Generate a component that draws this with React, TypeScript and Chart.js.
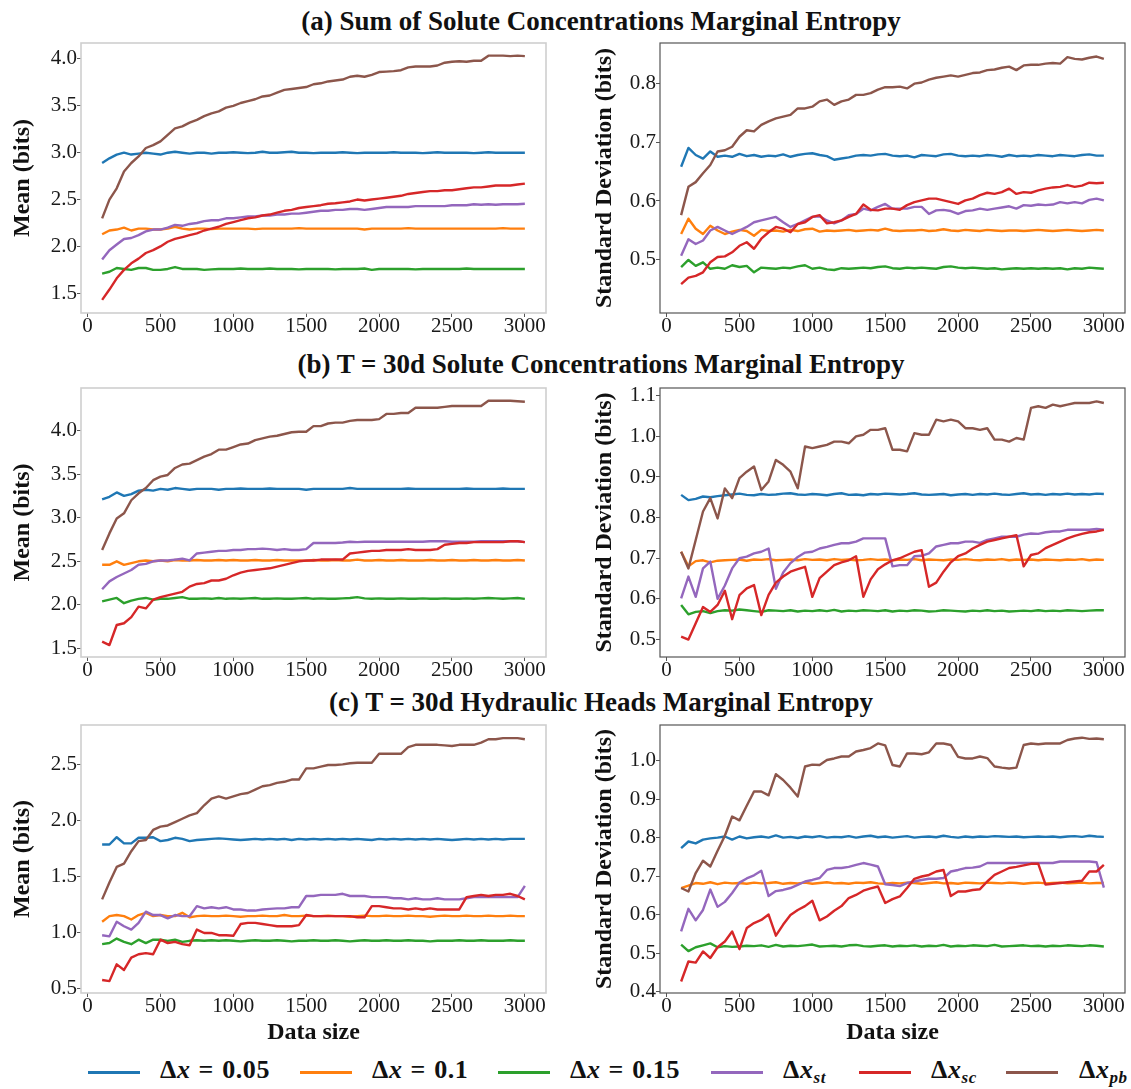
import React, { useEffect, useRef } from "react";
import { Chart, registerables } from "chart.js";

Chart.register(...registerables);

// ---------------- data ----------------
const DATA_SIZE = [
  100, 150, 200, 250, 300, 350, 400, 450, 500, 550,
  600, 650, 700, 750, 800, 850, 900, 950, 1000, 1050,
  1100, 1150, 1200, 1250, 1300, 1350, 1400, 1450, 1500, 1550,
  1600, 1650, 1700, 1750, 1800, 1850, 1900, 1950, 2000, 2050,
  2100, 2150, 2200, 2250, 2300, 2350, 2400, 2450, 2500, 2550,
  2600, 2650, 2700, 2750, 2800, 2850, 2900, 2950, 3000,
];
const X_TICKS = [0, 500, 1000, 1500, 2000, 2500, 3000];

const SERIES_LABELS = ["Δx = 0.05", "Δx = 0.1", "Δx = 0.15", "Δx_st", "Δx_sc", "Δx_pb"];
const COLORS = ["#1f77b4", "#ff7f0e", "#2ca02c", "#9467bd", "#d62728", "#8c564b"];

const TITLES = [
  "(a) Sum of Solute Concentrations Marginal Entropy",
  "(b) T = 30d Solute Concentrations Marginal Entropy",
  "(c) T = 30d Hydraulic Heads Marginal Entropy",
];
const Y_TITLE_MEAN = "Mean (bits)";
const Y_TITLE_STD = "Standard Deviation (bits)";
const X_TITLE = "Data size";

// (a) mean
const A_MEAN_DX005 = [
  2.89, 2.94, 2.98, 3.0, 2.98, 2.99, 3.0, 2.99, 2.98, 3.0,
  3.01, 3.0, 2.99, 3.0, 3.0, 2.99, 3.0, 3.0, 3.005, 3.0,
  2.995, 3.0, 3.01, 3.0, 3.0, 3.005, 3.01, 3.0, 3.0, 2.995,
  3.0, 3.0, 3.0, 3.005, 3.0, 2.995, 3.0, 3.0, 3.0, 3.0,
  3.005, 3.0, 3.0, 3.0, 2.995, 3.0, 3.005, 3.0, 3.0, 3.0,
  3.0, 2.995, 3.0, 3.005, 3.0, 3.0, 3.0, 3.0, 3.0,
];
const A_MEAN_DX010 = [
  2.13, 2.17, 2.18, 2.2, 2.17, 2.19, 2.19, 2.18, 2.18, 2.19,
  2.21, 2.19, 2.18, 2.19, 2.19, 2.185, 2.19, 2.19, 2.19, 2.19,
  2.19, 2.185, 2.19, 2.19, 2.19, 2.19, 2.19, 2.195, 2.19, 2.19,
  2.19, 2.19, 2.19, 2.19, 2.19, 2.19, 2.18, 2.19, 2.19, 2.19,
  2.19, 2.19, 2.195, 2.19, 2.19, 2.19, 2.19, 2.19, 2.19, 2.19,
  2.19, 2.19, 2.19, 2.19, 2.19, 2.195, 2.19, 2.19, 2.19,
];
const A_MEAN_DX015 = [
  1.71, 1.73, 1.77, 1.76, 1.75, 1.77, 1.77, 1.75, 1.75, 1.76,
  1.78, 1.76, 1.76, 1.76, 1.75, 1.755, 1.76, 1.76, 1.76, 1.765,
  1.76, 1.76, 1.76, 1.765, 1.76, 1.76, 1.76, 1.755, 1.76, 1.76,
  1.76, 1.76, 1.755, 1.76, 1.76, 1.76, 1.765, 1.75, 1.76, 1.76,
  1.76, 1.76, 1.76, 1.755, 1.76, 1.76, 1.76, 1.76, 1.76, 1.76,
  1.765, 1.76, 1.76, 1.76, 1.76, 1.76, 1.76, 1.76, 1.76,
];
const A_MEAN_ST = [
  1.86, 1.96, 2.02, 2.08, 2.09, 2.12, 2.16, 2.18, 2.18, 2.2,
  2.23, 2.22, 2.24, 2.25, 2.27, 2.28, 2.28, 2.3, 2.3, 2.31,
  2.32, 2.32, 2.33, 2.33, 2.34, 2.34, 2.35, 2.35, 2.36, 2.37,
  2.38, 2.38, 2.39, 2.39, 2.4, 2.4, 2.39, 2.4, 2.41, 2.42,
  2.42, 2.42, 2.42, 2.43, 2.43, 2.43, 2.43, 2.43, 2.44, 2.44,
  2.44, 2.45, 2.445, 2.45, 2.445, 2.45, 2.45, 2.45, 2.455,
];
const A_MEAN_SC = [
  1.43, 1.54, 1.66, 1.75, 1.82, 1.87, 1.93, 1.96, 2.0, 2.05,
  2.08, 2.1, 2.12, 2.14, 2.17, 2.19, 2.21, 2.24, 2.26, 2.28,
  2.3, 2.31, 2.33, 2.34, 2.36, 2.38, 2.39, 2.41, 2.42, 2.43,
  2.44, 2.455, 2.46, 2.47, 2.48, 2.5, 2.49, 2.5, 2.51, 2.52,
  2.53, 2.54, 2.56, 2.57, 2.58, 2.59, 2.59, 2.6, 2.6, 2.61,
  2.62, 2.63, 2.63, 2.64, 2.65, 2.65, 2.65, 2.66, 2.67,
];
const A_MEAN_PB = [
  2.3, 2.5, 2.62, 2.8, 2.89, 2.96, 3.05, 3.08, 3.12, 3.19,
  3.26, 3.28, 3.32, 3.35, 3.39, 3.42, 3.44, 3.48, 3.5, 3.53,
  3.55, 3.57, 3.6, 3.61, 3.64, 3.67, 3.68, 3.69, 3.7, 3.73,
  3.74, 3.76, 3.77, 3.78, 3.81, 3.82, 3.81, 3.83, 3.86, 3.865,
  3.87, 3.88, 3.91, 3.92, 3.92, 3.92, 3.93, 3.96, 3.97, 3.975,
  3.97, 3.98, 3.98, 4.035, 4.035, 4.035, 4.03, 4.035, 4.03,
];

// (a) standard deviation
const A_STD_DX005 = [
  0.658, 0.69, 0.678, 0.672, 0.684, 0.675, 0.677, 0.675, 0.68, 0.676,
  0.678, 0.675, 0.677, 0.676, 0.679, 0.675, 0.678, 0.68, 0.681, 0.678,
  0.676, 0.67, 0.672, 0.674, 0.677, 0.678, 0.677, 0.679, 0.68, 0.677,
  0.676, 0.677, 0.674, 0.678, 0.677, 0.676, 0.679, 0.68, 0.677, 0.676,
  0.677, 0.676, 0.678, 0.677, 0.675, 0.678, 0.676, 0.677, 0.676, 0.678,
  0.677, 0.676, 0.678, 0.677, 0.676, 0.678, 0.679, 0.677, 0.677,
];
const A_STD_DX010 = [
  0.544, 0.57, 0.553, 0.544, 0.558, 0.55, 0.544, 0.548, 0.551, 0.549,
  0.541, 0.551, 0.549, 0.55, 0.548, 0.551, 0.549, 0.552, 0.553, 0.548,
  0.55, 0.549, 0.55, 0.551, 0.549, 0.55, 0.551, 0.55, 0.553, 0.55,
  0.549, 0.55, 0.55, 0.551, 0.549, 0.55, 0.552, 0.55, 0.549, 0.551,
  0.55, 0.549, 0.551, 0.55, 0.549, 0.55, 0.55, 0.549, 0.55, 0.551,
  0.55, 0.549, 0.55, 0.551, 0.55, 0.549, 0.55, 0.551, 0.55,
];
const A_STD_DX015 = [
  0.488, 0.5, 0.49, 0.496, 0.485, 0.487, 0.485, 0.491, 0.488, 0.49,
  0.479, 0.487, 0.486, 0.485, 0.487, 0.486, 0.489, 0.491, 0.485, 0.487,
  0.484, 0.483, 0.486, 0.485, 0.486, 0.487, 0.486, 0.488, 0.489, 0.486,
  0.485, 0.487, 0.486, 0.487, 0.486, 0.485, 0.488, 0.489, 0.487, 0.486,
  0.487, 0.486, 0.485, 0.486, 0.484, 0.485, 0.486, 0.485, 0.486, 0.485,
  0.486, 0.485, 0.486, 0.484, 0.486, 0.485, 0.487, 0.486, 0.485,
];
const A_STD_ST = [
  0.507, 0.535, 0.527, 0.533, 0.55, 0.556, 0.55, 0.544, 0.55, 0.556,
  0.564, 0.567, 0.57, 0.573, 0.564, 0.556, 0.561, 0.567, 0.573, 0.574,
  0.567, 0.562, 0.567, 0.576, 0.578, 0.587, 0.584, 0.59, 0.595, 0.587,
  0.587, 0.587, 0.59, 0.59, 0.578, 0.584, 0.585, 0.583, 0.578, 0.583,
  0.584, 0.587, 0.585, 0.587, 0.589, 0.591, 0.587, 0.593, 0.592, 0.594,
  0.593, 0.594, 0.598, 0.596, 0.598, 0.596, 0.602, 0.604, 0.601,
];
const A_STD_SC = [
  0.459, 0.47, 0.473, 0.479, 0.496, 0.505, 0.506, 0.513, 0.524, 0.53,
  0.519, 0.536, 0.547, 0.556, 0.553, 0.547, 0.561, 0.564, 0.573, 0.576,
  0.562, 0.564, 0.567, 0.573, 0.578, 0.594, 0.585, 0.584, 0.587, 0.587,
  0.585, 0.593, 0.598, 0.601, 0.604, 0.604, 0.601, 0.598, 0.595, 0.601,
  0.604, 0.61, 0.614, 0.612, 0.615, 0.621, 0.612, 0.615, 0.614, 0.618,
  0.621, 0.623, 0.624, 0.627, 0.624, 0.626, 0.631, 0.63, 0.631,
];
const A_STD_PB = [
  0.576, 0.624, 0.632, 0.647, 0.661, 0.684, 0.686, 0.692, 0.709, 0.72,
  0.718, 0.729, 0.735, 0.74, 0.743, 0.746, 0.757, 0.757, 0.76, 0.769,
  0.772, 0.763, 0.769, 0.772, 0.78, 0.78, 0.783, 0.789, 0.793, 0.793,
  0.794, 0.791, 0.799, 0.801, 0.806, 0.809, 0.811, 0.813, 0.811, 0.814,
  0.817, 0.818, 0.822, 0.823, 0.826, 0.828, 0.822, 0.83, 0.831, 0.831,
  0.833, 0.834, 0.833, 0.844, 0.841, 0.84, 0.843, 0.845, 0.841,
];

// (b) mean
const B_MEAN_DX005 = [
  3.21, 3.24, 3.29, 3.25, 3.27, 3.31, 3.32, 3.31, 3.33, 3.32,
  3.34, 3.33, 3.32, 3.33, 3.33, 3.33, 3.32, 3.33, 3.33, 3.335,
  3.33, 3.33, 3.33, 3.335, 3.33, 3.33, 3.33, 3.33, 3.32, 3.33,
  3.33, 3.33, 3.33, 3.33, 3.34, 3.33, 3.33, 3.33, 3.33, 3.33,
  3.33, 3.33, 3.335, 3.33, 3.33, 3.33, 3.33, 3.33, 3.33, 3.33,
  3.335, 3.33, 3.33, 3.33, 3.33, 3.335, 3.33, 3.33, 3.33,
];
const B_MEAN_DX010 = [
  2.46, 2.46, 2.5, 2.46, 2.48, 2.5, 2.51, 2.5, 2.51, 2.5,
  2.515, 2.51, 2.51, 2.515, 2.51, 2.51, 2.515, 2.51, 2.515, 2.51,
  2.51, 2.515, 2.51, 2.51, 2.515, 2.51, 2.51, 2.51, 2.505, 2.515,
  2.51, 2.51, 2.515, 2.51, 2.51, 2.52, 2.51, 2.51, 2.515, 2.51,
  2.51, 2.515, 2.51, 2.51, 2.51, 2.515, 2.51, 2.51, 2.515, 2.51,
  2.51, 2.515, 2.51, 2.51, 2.515, 2.51, 2.51, 2.515, 2.51,
];
const B_MEAN_DX015 = [
  2.04, 2.06, 2.08, 2.02, 2.05, 2.07, 2.08, 2.06, 2.07, 2.07,
  2.08, 2.09, 2.07, 2.07, 2.075, 2.07, 2.08, 2.07, 2.075, 2.07,
  2.075, 2.08, 2.07, 2.07, 2.075, 2.07, 2.07, 2.075, 2.08, 2.07,
  2.075, 2.07, 2.07, 2.075, 2.08, 2.09, 2.075, 2.07, 2.075, 2.07,
  2.07, 2.075, 2.07, 2.07, 2.075, 2.07, 2.07, 2.075, 2.07, 2.07,
  2.075, 2.07, 2.075, 2.08, 2.075, 2.07, 2.075, 2.08, 2.07,
];
const B_MEAN_ST = [
  2.18, 2.27, 2.32, 2.36, 2.4, 2.46, 2.47, 2.5, 2.51, 2.51,
  2.52, 2.53, 2.51, 2.59, 2.6, 2.61, 2.62, 2.62, 2.63, 2.63,
  2.64, 2.64, 2.645, 2.64, 2.63, 2.64, 2.63, 2.63, 2.64, 2.71,
  2.71, 2.71, 2.71, 2.715, 2.725, 2.72, 2.725, 2.725, 2.725, 2.725,
  2.725, 2.725, 2.725, 2.725, 2.725, 2.73, 2.73, 2.73, 2.725, 2.725,
  2.725, 2.725, 2.73, 2.73, 2.73, 2.73, 2.73, 2.73, 2.72,
];
const B_MEAN_SC = [
  1.58, 1.54, 1.77, 1.79, 1.86, 1.98, 1.96, 2.06, 2.09, 2.11,
  2.13, 2.15, 2.21, 2.24, 2.25, 2.28, 2.28, 2.3, 2.34, 2.37,
  2.39, 2.4, 2.41, 2.42, 2.44, 2.46, 2.48, 2.5, 2.51, 2.51,
  2.52, 2.52, 2.52, 2.52, 2.59, 2.6, 2.61, 2.62, 2.62, 2.63,
  2.63, 2.63, 2.64, 2.63, 2.63, 2.63, 2.64, 2.69, 2.7, 2.71,
  2.71, 2.72, 2.72, 2.72, 2.72, 2.72, 2.73, 2.73, 2.72,
];
const B_MEAN_PB = [
  2.63, 2.82, 2.99, 3.05, 3.2, 3.28, 3.34, 3.43, 3.47, 3.49,
  3.57, 3.61, 3.62, 3.66, 3.7, 3.73, 3.78, 3.78, 3.81, 3.84,
  3.85, 3.89, 3.91, 3.93, 3.94, 3.96, 3.98, 3.985, 3.985, 4.05,
  4.05, 4.08, 4.09, 4.09, 4.11, 4.12, 4.12, 4.12, 4.13, 4.19,
  4.19, 4.2, 4.2, 4.26, 4.26, 4.26, 4.26, 4.27, 4.28, 4.28,
  4.28, 4.28, 4.28, 4.34, 4.34, 4.34, 4.34, 4.335, 4.33,
];

// (b) standard deviation
const B_STD_DX005 = [
  0.856, 0.843, 0.846, 0.852, 0.85, 0.853, 0.855, 0.857, 0.859, 0.856,
  0.855, 0.858, 0.856, 0.857, 0.859, 0.86, 0.857, 0.856, 0.858, 0.857,
  0.855, 0.858, 0.86, 0.856, 0.857, 0.855, 0.858, 0.857, 0.859, 0.858,
  0.857, 0.858, 0.86, 0.857, 0.856, 0.857, 0.858, 0.855, 0.857, 0.858,
  0.856, 0.858, 0.857, 0.859, 0.857, 0.856, 0.858, 0.86, 0.857, 0.858,
  0.856, 0.858, 0.857, 0.859, 0.857, 0.858, 0.857, 0.859, 0.858,
];
const B_STD_DX010 = [
  0.716, 0.68, 0.693, 0.695, 0.69, 0.694, 0.695, 0.696, 0.697, 0.694,
  0.697, 0.696, 0.698, 0.695, 0.696, 0.697, 0.695, 0.698, 0.696, 0.697,
  0.695, 0.698, 0.696, 0.697, 0.695, 0.696, 0.698, 0.696, 0.697, 0.695,
  0.697, 0.696, 0.698, 0.695, 0.697, 0.696, 0.695, 0.697, 0.696, 0.698,
  0.696, 0.695, 0.697, 0.696, 0.698, 0.695, 0.697, 0.696, 0.697, 0.695,
  0.697, 0.696, 0.695, 0.697, 0.696, 0.698, 0.695, 0.697, 0.696,
];
const B_STD_DX015 = [
  0.585, 0.562, 0.568, 0.57, 0.565, 0.57, 0.572, 0.571, 0.574, 0.572,
  0.57, 0.568, 0.572, 0.571, 0.57, 0.572, 0.569, 0.571, 0.57, 0.572,
  0.57, 0.573, 0.569, 0.571, 0.57, 0.572, 0.571, 0.57, 0.572, 0.569,
  0.571, 0.57, 0.572, 0.571, 0.569, 0.57, 0.572, 0.571, 0.57, 0.569,
  0.571, 0.57, 0.572, 0.57, 0.571, 0.569, 0.57, 0.571, 0.57, 0.572,
  0.57, 0.571, 0.57, 0.572, 0.571, 0.57, 0.571, 0.572, 0.572,
];
const B_STD_ST = [
  0.601, 0.655, 0.605, 0.675, 0.692, 0.6, 0.633, 0.675, 0.7, 0.704,
  0.712, 0.716, 0.724, 0.625, 0.665, 0.688, 0.703, 0.714, 0.716, 0.724,
  0.728, 0.733, 0.737, 0.737, 0.741, 0.749, 0.749, 0.749, 0.749, 0.68,
  0.683, 0.683, 0.705, 0.706, 0.712, 0.729, 0.733, 0.737, 0.737, 0.741,
  0.741, 0.738, 0.745, 0.749, 0.753, 0.753, 0.753, 0.758, 0.761, 0.76,
  0.764, 0.766, 0.766, 0.77, 0.77, 0.77, 0.77, 0.772, 0.77,
];
const B_STD_SC = [
  0.507, 0.5, 0.54, 0.58, 0.568, 0.585, 0.62, 0.55, 0.609, 0.626,
  0.634, 0.56, 0.61, 0.64, 0.655, 0.667, 0.673, 0.679, 0.605, 0.651,
  0.667, 0.683, 0.69, 0.695, 0.705, 0.605, 0.648, 0.673, 0.685, 0.695,
  0.7, 0.708, 0.716, 0.72, 0.63, 0.64, 0.667, 0.69, 0.705, 0.712,
  0.724, 0.733, 0.741, 0.745, 0.749, 0.753, 0.757, 0.68, 0.708, 0.712,
  0.725, 0.733, 0.741, 0.749, 0.755, 0.76, 0.764, 0.766, 0.77,
];
const B_STD_PB = [
  0.716, 0.675, 0.745, 0.815, 0.848, 0.798, 0.872, 0.848, 0.897, 0.913,
  0.926, 0.868, 0.889, 0.942, 0.93, 0.913, 0.872, 0.975, 0.971, 0.975,
  0.979, 0.987, 0.987, 0.983, 1.0, 1.004, 1.016, 1.016, 1.02, 0.967,
  0.967, 0.963, 1.008, 1.004, 1.004, 1.041, 1.037, 1.041, 1.037, 1.02,
  1.02, 1.016, 1.02, 0.992, 0.992, 0.987, 0.996, 0.992, 1.07, 1.074,
  1.07, 1.078, 1.074, 1.078, 1.082, 1.082, 1.082, 1.086, 1.082,
];

// (c) mean
const C_MEAN_DX005 = [
  1.79, 1.79, 1.855, 1.8, 1.8, 1.85, 1.85, 1.855, 1.82, 1.83,
  1.85, 1.84, 1.82, 1.83, 1.835, 1.84, 1.845, 1.84, 1.835, 1.83,
  1.835, 1.84, 1.835, 1.84, 1.835, 1.84, 1.83, 1.84, 1.835, 1.84,
  1.835, 1.84, 1.835, 1.84, 1.835, 1.84, 1.835, 1.83, 1.84, 1.835,
  1.84, 1.835, 1.84, 1.835, 1.84, 1.835, 1.84, 1.835, 1.83, 1.835,
  1.84, 1.835, 1.84, 1.835, 1.84, 1.835, 1.84, 1.84, 1.84,
];
const C_MEAN_DX010 = [
  1.1, 1.15, 1.16, 1.15, 1.12, 1.16, 1.18, 1.15, 1.16, 1.15,
  1.15, 1.18, 1.14, 1.15, 1.155, 1.15, 1.15, 1.155, 1.15, 1.145,
  1.15, 1.15, 1.155, 1.15, 1.15, 1.16, 1.15, 1.15, 1.155, 1.15,
  1.15, 1.155, 1.15, 1.15, 1.145, 1.15, 1.155, 1.15, 1.15, 1.155,
  1.15, 1.15, 1.155, 1.15, 1.15, 1.145, 1.15, 1.155, 1.15, 1.15,
  1.155, 1.15, 1.15, 1.155, 1.15, 1.15, 1.155, 1.15, 1.15,
];
const C_MEAN_DX015 = [
  0.9, 0.91, 0.95, 0.92, 0.9, 0.94, 0.91, 0.94, 0.94, 0.93,
  0.94, 0.92, 0.93, 0.935, 0.93, 0.935, 0.93, 0.935, 0.93, 0.925,
  0.93, 0.935, 0.93, 0.93, 0.935, 0.93, 0.925, 0.93, 0.93, 0.935,
  0.93, 0.93, 0.935, 0.93, 0.925, 0.93, 0.935, 0.93, 0.93, 0.935,
  0.93, 0.93, 0.935, 0.93, 0.93, 0.925, 0.93, 0.93, 0.93, 0.935,
  0.93, 0.93, 0.935, 0.93, 0.93, 0.93, 0.935, 0.93, 0.93,
];
const C_MEAN_ST = [
  0.98, 0.97, 1.1, 1.06, 1.03, 1.09, 1.19, 1.16, 1.16, 1.13,
  1.16, 1.15, 1.15, 1.24, 1.22, 1.23, 1.22, 1.23, 1.21, 1.21,
  1.2, 1.2, 1.21, 1.215, 1.22, 1.22, 1.23, 1.23, 1.33, 1.33,
  1.34, 1.34, 1.34, 1.35, 1.33, 1.33, 1.33, 1.32, 1.32, 1.32,
  1.31, 1.31, 1.3, 1.31, 1.3, 1.3, 1.31, 1.3, 1.3, 1.3,
  1.31, 1.32, 1.32, 1.32, 1.32, 1.32, 1.32, 1.32, 1.42,
];
const C_MEAN_SC = [
  0.58, 0.57, 0.72, 0.67, 0.78, 0.81, 0.82, 0.81, 0.94, 0.91,
  0.92, 0.9, 0.89, 1.03, 1.0, 1.0, 0.98, 0.98, 0.975, 1.08,
  1.09, 1.09, 1.08, 1.07, 1.06, 1.06, 1.06, 1.07, 1.16, 1.15,
  1.15, 1.15, 1.15, 1.15, 1.15, 1.14, 1.14, 1.24, 1.24, 1.23,
  1.22, 1.22, 1.21, 1.22, 1.21, 1.22, 1.21, 1.21, 1.21, 1.21,
  1.32, 1.33, 1.34, 1.33, 1.34, 1.34, 1.35, 1.33, 1.3,
];
const C_MEAN_PB = [
  1.3, 1.45, 1.59, 1.62, 1.73, 1.82, 1.83, 1.92, 1.95, 1.96,
  1.99, 2.02, 2.05, 2.07, 2.14, 2.2, 2.22, 2.2, 2.22, 2.24,
  2.25, 2.28, 2.31, 2.32, 2.34, 2.35, 2.37, 2.37, 2.47, 2.47,
  2.485, 2.5, 2.5, 2.505, 2.515, 2.52, 2.52, 2.52, 2.6, 2.6,
  2.6, 2.6, 2.66, 2.68, 2.68, 2.68, 2.68, 2.675, 2.67, 2.68,
  2.68, 2.68, 2.7, 2.73, 2.73, 2.74, 2.74, 2.74, 2.73,
];

// (c) standard deviation
const C_STD_DX005 = [
  0.773, 0.79, 0.785, 0.795, 0.798, 0.8, 0.803, 0.795, 0.803, 0.798,
  0.801, 0.803, 0.8, 0.806, 0.8, 0.802, 0.799, 0.803, 0.801, 0.804,
  0.8, 0.802, 0.801, 0.804, 0.8, 0.803, 0.805, 0.801, 0.803, 0.8,
  0.802, 0.804, 0.8, 0.802, 0.803, 0.801, 0.805, 0.802, 0.8, 0.803,
  0.801, 0.803, 0.802, 0.804, 0.803, 0.802, 0.803, 0.801, 0.802, 0.803,
  0.802, 0.803, 0.801, 0.803, 0.804, 0.802, 0.805, 0.803, 0.802,
];
const C_STD_DX010 = [
  0.669, 0.675, 0.682, 0.68, 0.684, 0.679, 0.683, 0.681, 0.682, 0.68,
  0.683, 0.681, 0.682, 0.684, 0.68, 0.682, 0.681, 0.683, 0.68, 0.682,
  0.684, 0.681, 0.682, 0.68, 0.683, 0.682, 0.684, 0.681, 0.68, 0.682,
  0.681, 0.683, 0.682, 0.68, 0.682, 0.684, 0.681, 0.682, 0.68, 0.683,
  0.682, 0.681, 0.683, 0.682, 0.681, 0.683, 0.682, 0.68, 0.682, 0.683,
  0.681, 0.682, 0.683, 0.681, 0.682, 0.683, 0.681, 0.682, 0.682,
];
const C_STD_DX015 = [
  0.522, 0.505, 0.515, 0.52, 0.525, 0.515, 0.518, 0.516, 0.517, 0.519,
  0.518, 0.52, 0.516, 0.521, 0.517, 0.519, 0.518, 0.52, 0.522, 0.517,
  0.518, 0.519, 0.517, 0.52, 0.521, 0.518, 0.517, 0.519, 0.52, 0.517,
  0.519, 0.518, 0.52, 0.517, 0.519, 0.518, 0.521, 0.517, 0.519, 0.518,
  0.52, 0.519, 0.518, 0.521, 0.517, 0.518, 0.519, 0.52, 0.518, 0.519,
  0.517, 0.519, 0.518, 0.52, 0.519, 0.518, 0.52, 0.519, 0.517,
];
const C_STD_ST = [
  0.556, 0.615, 0.585, 0.612, 0.665, 0.62, 0.633, 0.656, 0.683, 0.694,
  0.702, 0.714, 0.648, 0.661, 0.664, 0.669, 0.677, 0.686, 0.69, 0.695,
  0.716, 0.721, 0.721, 0.724, 0.729, 0.734, 0.73, 0.725, 0.679, 0.677,
  0.674, 0.682, 0.686, 0.69, 0.693, 0.693, 0.695, 0.712, 0.716, 0.721,
  0.722, 0.725, 0.734, 0.734, 0.734, 0.734, 0.734, 0.734, 0.734, 0.734,
  0.734, 0.734, 0.738, 0.738, 0.738, 0.738, 0.738, 0.736, 0.67,
];
const C_STD_SC = [
  0.426, 0.478, 0.475, 0.504, 0.487, 0.515, 0.53, 0.556, 0.51, 0.565,
  0.578, 0.586, 0.6, 0.545, 0.574, 0.599, 0.612, 0.622, 0.636, 0.585,
  0.595, 0.61, 0.622, 0.643, 0.651, 0.662, 0.668, 0.673, 0.63, 0.64,
  0.647, 0.669, 0.693, 0.699, 0.703, 0.712, 0.716, 0.648, 0.66, 0.66,
  0.664, 0.666, 0.686, 0.703, 0.712, 0.721, 0.724, 0.728, 0.732, 0.732,
  0.678, 0.68, 0.682, 0.684, 0.686, 0.688, 0.712, 0.712, 0.729,
];
const C_STD_PB = [
  0.669, 0.66, 0.708, 0.74, 0.725, 0.766, 0.805, 0.855, 0.845, 0.883,
  0.92, 0.92, 0.91, 0.965, 0.95, 0.93, 0.907, 0.985, 0.99, 0.989,
  1.002, 1.006, 1.011, 1.011, 1.024, 1.028, 1.033, 1.045, 1.04, 0.989,
  0.985, 1.019, 1.019, 1.017, 1.022, 1.045, 1.045, 1.041, 1.01, 1.006,
  1.006, 1.011, 1.007, 0.985, 0.982, 0.98, 0.982, 1.041, 1.045, 1.043,
  1.045, 1.045, 1.045, 1.054, 1.058, 1.06, 1.057, 1.058, 1.056,
];

// y tick labels
const A_MEAN_TICKS = [1.5, 2.0, 2.5, 3.0, 3.5, 4.0];
const A_STD_TICKS = [0.5, 0.6, 0.7, 0.8];
const B_MEAN_TICKS = [1.5, 2.0, 2.5, 3.0, 3.5, 4.0];
const B_STD_TICKS = [0.5, 0.6, 0.7, 0.8, 0.9, 1.0, 1.1];
const C_MEAN_TICKS = [0.5, 1.0, 1.5, 2.0, 2.5];
const C_STD_TICKS = [0.4, 0.5, 0.6, 0.7, 0.8, 0.9, 1.0];

// ---------------- layout ----------------
const SERIF = "'Liberation Serif', 'Times New Roman', serif";
const ROWS = [
  { plotTop: 43, plotBottom: 313, titleTop: 8 },
  { plotTop: 388, plotBottom: 657, titleTop: 351 },
  { plotTop: 725, plotBottom: 993, titleTop: 689 },
];
const PAD_TOP = 14;
const LEFT_COL = { left: 0, width: 560, axisW: 81, padRight: 14, titleOffset: 8.6, frame: "#cfcfcf", frameW: 1.6 };
const RIGHT_COL = { left: 560, width: 571, axisW: 100, padRight: 6, titleOffset: 30.6, frame: "#555555", frameW: 1.2 };

const framePlugin = {
  id: "frame",
  afterDatasetsDraw(chart: any, _args: any, opts: any) {
    const { ctx, chartArea } = chart;
    ctx.save();
    ctx.strokeStyle = opts.color;
    ctx.lineWidth = opts.width;
    ctx.strokeRect(chartArea.left, chartArea.top, chartArea.right - chartArea.left, chartArea.bottom - chartArea.top);
    ctx.restore();
  },
};

type PanelProps = {
  series: number[][];
  yMin: number;
  yMax: number;
  yTicks: number[];
  yTitle: string;
  row: number;
  col: typeof LEFT_COL;
  showXTitle: boolean;
};

function Panel(p: PanelProps) {
  const ref = useRef<HTMLCanvasElement | null>(null);
  const r = ROWS[p.row];
  const xAxisH = p.showXTitle ? 62 : 30;
  const canvasTop = r.plotTop - PAD_TOP;
  const canvasH = r.plotBottom - r.plotTop + PAD_TOP + xAxisH;

  useEffect(() => {
    const canvas = ref.current;
    if (!canvas) return;
    const datasets = p.series.map((vals, i) => ({
      label: SERIES_LABELS[i],
      data: DATA_SIZE.map((x, j) => ({ x, y: vals[j] })),
      borderColor: COLORS[i],
      backgroundColor: COLORS[i],
      borderWidth: 2.4,
      borderJoinStyle: "round" as const,
      pointRadius: 0,
      tension: 0,
      fill: false,
      order: 6 - i,
    }));
    const tickFont = { family: SERIF, size: 21, lineHeight: 1.2 };
    const titleFont = { family: SERIF, size: 24, weight: "bold" as const, lineHeight: 1.2 };
    const chart = new Chart(canvas, {
      type: "line",
      data: { datasets },
      plugins: [framePlugin],
      options: {
        animation: false,
        responsive: false,
        events: [],
        layout: { padding: { top: PAD_TOP, right: p.col.padRight, left: 0, bottom: 0 } },
        plugins: {
          legend: { display: false },
          tooltip: { enabled: false },
          frame: { color: p.col.frame, width: p.col.frameW },
        } as any,
        scales: {
          x: {
            type: "linear",
            min: -45,
            max: 3145,
            afterBuildTicks: (s: any) => {
              s.ticks = X_TICKS.map((v) => ({ value: v }));
            },
            afterFit: (s: any) => {
              s.height = xAxisH;
            },
            ticks: {
              font: tickFont,
              color: "#1a1a1a",
              padding: -3.5,
              maxRotation: 0,
              autoSkip: false,
              callback: (v: any) => String(v),
            },
            grid: { display: true, drawOnChartArea: false, drawTicks: true, tickLength: 4, tickColor: "#555", tickWidth: 1 },
            border: { display: false },
            title: {
              display: p.showXTitle,
              text: X_TITLE,
              font: titleFont,
              color: "#111",
              padding: { top: 0, bottom: 7.6 },
            },
          },
          y: {
            type: "linear",
            min: p.yMin,
            max: p.yMax,
            afterBuildTicks: (s: any) => {
              s.ticks = p.yTicks.map((v) => ({ value: v }));
            },
            afterFit: (s: any) => {
              s.width = p.col.axisW;
            },
            ticks: {
              font: tickFont,
              color: "#1a1a1a",
              padding: 0,
              autoSkip: false,
              callback: (v: any) => Number(v).toFixed(1),
            },
            grid: { display: true, drawOnChartArea: false, drawTicks: true, tickLength: 4, tickColor: "#555", tickWidth: 1 },
            border: { display: false },
            title: {
              display: true,
              text: p.yTitle,
              font: titleFont,
              color: "#111",
              padding: { top: p.col.titleOffset, bottom: 0 },
            },
          },
        },
      } as any,
    });
    return () => chart.destroy();
  }, []);

  return (
    <canvas
      ref={ref}
      width={p.col.width}
      height={canvasH}
      style={{ position: "absolute", left: p.col.left, top: canvasTop, width: p.col.width, height: canvasH }}
    />
  );
}

const LEGEND_LINE_LEFT = [88, 300, 498, 711, 859, 1006];
const LEGEND_TEXT_LEFT = [160, 372, 570, 783, 931, 1079];

function LegendLabel({ label }: { label: string }) {
  const rest = label.slice(2);
  if (rest.startsWith("_")) {
    return (
      <span>
        Δ<i>x</i>
        <sub style={{ fontSize: 17, fontStyle: "italic", verticalAlign: "-5px", lineHeight: 0 }}>{rest.slice(1)}</sub>
      </span>
    );
  }
  return (
    <span>
      Δ<i>x</i>
      {rest}
    </span>
  );
}

export default function App() {
  const LEGEND_Y = 1072;
  return (
    <div
      style={{
        position: "fixed",
        left: 0,
        top: 0,
        width: 1131,
        height: 1089,
        background: "#ffffff",
        overflow: "hidden",
      }}
    >
      {TITLES.map((t, i) => (
        <div
          key={t}
          style={{
            position: "absolute",
            left: 101,
            width: 1000,
            top: ROWS[i].titleTop,
            textAlign: "center",
            fontFamily: SERIF,
            fontWeight: "bold",
            fontSize: 27,
            lineHeight: "27px",
            color: "#111",
            whiteSpace: "nowrap",
          }}
        >
          {t}
        </div>
      ))}
      <Panel row={0} col={LEFT_COL} series={[A_MEAN_DX005, A_MEAN_DX010, A_MEAN_DX015, A_MEAN_ST, A_MEAN_SC, A_MEAN_PB]} yMin={1.29} yMax={4.17} yTicks={A_MEAN_TICKS} yTitle={Y_TITLE_MEAN} showXTitle={false} />
      <Panel row={0} col={RIGHT_COL} series={[A_STD_DX005, A_STD_DX010, A_STD_DX015, A_STD_ST, A_STD_SC, A_STD_PB]} yMin={0.41} yMax={0.868} yTicks={A_STD_TICKS} yTitle={Y_TITLE_STD} showXTitle={false} />
      <Panel row={1} col={LEFT_COL} series={[B_MEAN_DX005, B_MEAN_DX010, B_MEAN_DX015, B_MEAN_ST, B_MEAN_SC, B_MEAN_PB]} yMin={1.403} yMax={4.487} yTicks={B_MEAN_TICKS} yTitle={Y_TITLE_MEAN} showXTitle={false} />
      <Panel row={1} col={RIGHT_COL} series={[B_STD_DX005, B_STD_DX010, B_STD_DX015, B_STD_ST, B_STD_SC, B_STD_PB]} yMin={0.457} yMax={1.119} yTicks={B_STD_TICKS} yTitle={Y_TITLE_STD} showXTitle={false} />
      <Panel row={2} col={LEFT_COL} series={[C_MEAN_DX005, C_MEAN_DX010, C_MEAN_DX015, C_MEAN_ST, C_MEAN_SC, C_MEAN_PB]} yMin={0.464} yMax={2.857} yTicks={C_MEAN_TICKS} yTitle={Y_TITLE_MEAN} showXTitle={true} />
      <Panel row={2} col={RIGHT_COL} series={[C_STD_DX005, C_STD_DX010, C_STD_DX015, C_STD_ST, C_STD_SC, C_STD_PB]} yMin={0.396} yMax={1.093} yTicks={C_STD_TICKS} yTitle={Y_TITLE_STD} showXTitle={true} />
      {SERIES_LABELS.map((lab, i) => (
        <React.Fragment key={lab}>
          <div
            style={{
              position: "absolute",
              left: LEGEND_LINE_LEFT[i],
              top: LEGEND_Y - 1.5,
              width: 52,
              height: 3,
              background: COLORS[i],
            }}
          />
          <div
            style={{
              position: "absolute",
              left: LEGEND_TEXT_LEFT[i],
              top: LEGEND_Y - 15,
              fontFamily: SERIF,
              fontWeight: "bold",
              fontSize: 26,
              lineHeight: "26px",
              color: "#111",
              whiteSpace: "pre",
              wordSpacing: 1,
              letterSpacing: 0.6,
            }}
          >
            <LegendLabel label={lab} />
          </div>
        </React.Fragment>
      ))}
    </div>
  );
}
